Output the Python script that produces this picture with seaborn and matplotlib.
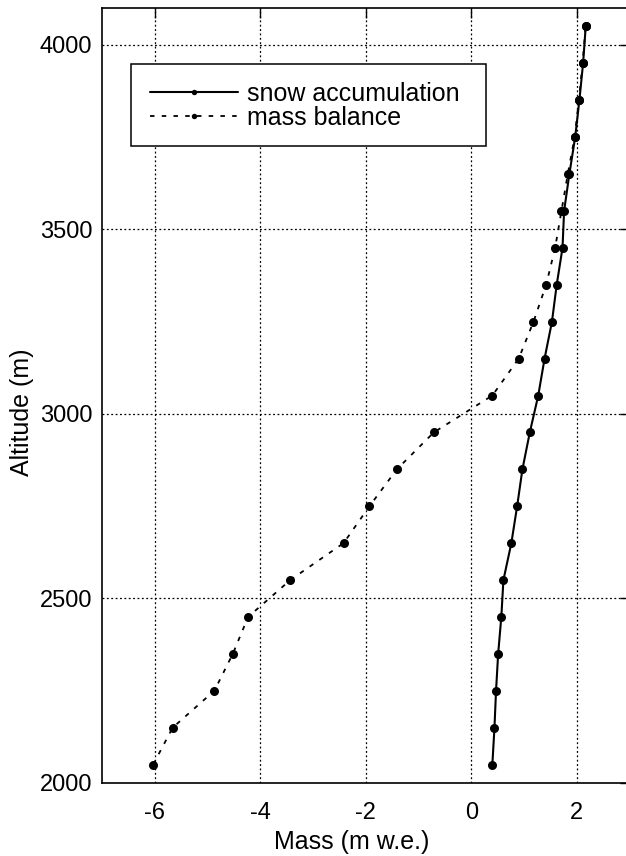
import numpy as np
import pandas as pd
import matplotlib
matplotlib.use('Agg')
import matplotlib.pyplot as plt
import seaborn as sns
from matplotlib.patches import Rectangle

# ---- data ----
altitude = [2050, 2150, 2250, 2350, 2450, 2550, 2650, 2750, 2850, 2950, 3050,
            3150, 3250, 3350, 3450, 3550, 3650, 3750, 3850, 3950, 4050]
snow_accumulation = [0.40, 0.44, 0.47, 0.51, 0.57, 0.61, 0.76, 0.87, 0.97, 1.11, 1.27,
                     1.39, 1.53, 1.62, 1.73, 1.76, 1.86, 1.97, 2.05, 2.12, 2.17]
mass_balance = [-6.03, -5.66, -4.87, -4.52, -4.23, -3.43, -2.42, -1.93, -1.41, -0.71, 0.40,
                0.90, 1.18, 1.42, 1.59, 1.71, 1.83, 1.96, 2.04, 2.11, 2.17]
series_labels = ['snow accumulation', 'mass balance']
x_ticks = [-6, -4, -2, 0, 2]
y_ticks = [2000, 2500, 3000, 3500, 4000]
x_label = 'Mass (m w.e.)'
y_label = 'Altitude (m)'

sns.set_theme(style='white')
plt.rcParams['font.family'] = ['Liberation Sans', 'DejaVu Sans']

W, H = 626, 856
fig = plt.figure(figsize=(W / 100, H / 100), dpi=100)
ax = fig.add_axes([102 / W, 73 / H, 527.5 / W, 775 / H])

df_snow = pd.DataFrame({'mass': snow_accumulation, 'alt': altitude})
df_mass = pd.DataFrame({'mass': mass_balance, 'alt': altitude})

sns.lineplot(data=df_snow, x='mass', y='alt', sort=False, estimator=None, ax=ax,
             color='black', linewidth=1.5, marker='o', markersize=6.5,
             markeredgewidth=0, label=series_labels[0], zorder=3)
sns.lineplot(data=df_mass, x='mass', y='alt', sort=False, estimator=None, ax=ax,
             color='black', linewidth=1.3, linestyle=(0, (2.5, 4)), marker='o',
             markersize=6.5, markeredgewidth=0, label=series_labels[1], zorder=3)

ax.set_xlim(-7, 3)
ax.set_ylim(2000, 4100)
ax.set_xticks(x_ticks)
ax.set_yticks(y_ticks)
ax.set_xticklabels([str(t) for t in x_ticks])

ax.set_axisbelow(True)
ax.grid(True, color='black', linestyle=(0, (1.5, 2)), linewidth=0.9)

ax.tick_params(direction='in', length=7, width=1, top=True, right=True,
               labelsize=17, colors='black')
ax.tick_params(axis='x', pad=14)
ax.tick_params(axis='y', pad=7)
for s in ax.spines.values():
    s.set_color('black')
    s.set_linewidth(1.2)

ax.set_xlabel(x_label, fontsize=18, color='black', va='center')
ax.xaxis.set_label_coords(0.474, -0.076)
ax.set_ylabel(y_label, fontsize=18, color='black', va='center')
ax.yaxis.set_label_coords(-0.152, 0.479)

# legend frame
box = Rectangle((0.055, 0.822), 0.673, 0.106, transform=ax.transAxes,
                facecolor='white', edgecolor='black', linewidth=1.1, zorder=4)
ax.add_patch(box)
leg = ax.legend(loc='center left', bbox_to_anchor=(0.091, 0.874), frameon=False,
                fontsize=18, handlelength=3.5, handletextpad=0.36, labelspacing=0.01,
                borderpad=0, borderaxespad=0, markerscale=0.6)
leg.set_zorder(5)
for t in leg.get_texts():
    t.set_color('black')

fig.savefig('out.png', dpi=100)
